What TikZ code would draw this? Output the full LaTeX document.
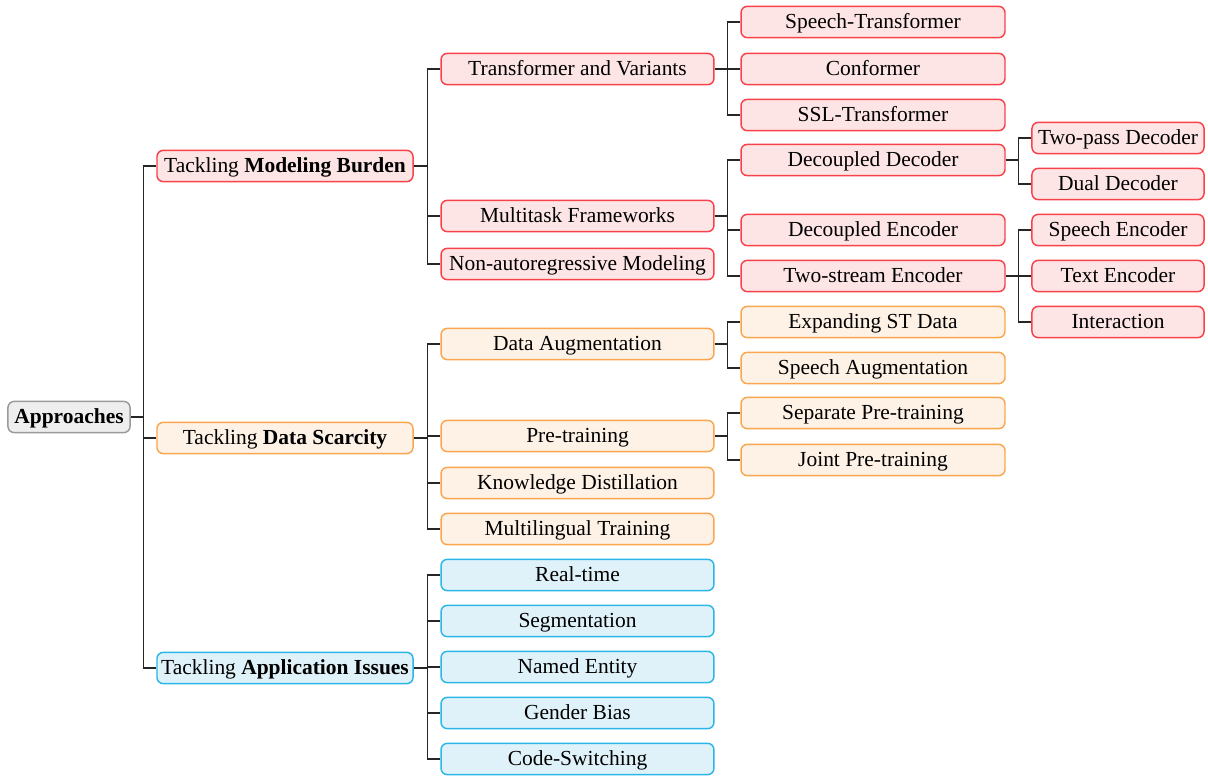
\documentclass[tikz,border=0pt]{standalone}
\usepackage{fontspec}
\setmainfont{Liberation Serif}
\usetikzlibrary{calc}
\definecolor{redline}{HTML}{F8424A}
\definecolor{redfill}{HTML}{FDE4E5}
\definecolor{orangeline}{HTML}{FAA64E}
\definecolor{orangefill}{HTML}{FEF1E5}
\definecolor{blueline}{HTML}{2AB6E6}
\definecolor{bluefill}{HTML}{DFF1F9}
\definecolor{grayline}{HTML}{9A9A9A}
\definecolor{grayfill}{HTML}{EEEEEE}

\begin{document}
\begin{tikzpicture}[x=0.48pt,y=-0.48pt,
  box/.style={draw, rounded corners=3pt, line width=0.7pt, inner sep=0pt,
    minimum height=15pt, text height=6.6pt, text depth=0pt,
    font=\fontsize{10.3}{12}\selectfont},
  redbox/.style={box, draw=redline, fill=redfill},
  orangebox/.style={box, draw=orangeline, fill=orangefill},
  bluebox/.style={box, draw=blueline, fill=bluefill},
  graybox/.style={box, draw=grayline, fill=grayfill},
  lvzero/.style={minimum width=58.6pt},
  lvone/.style={minimum width=122.9pt},
  lvtwo/.style={minimum width=131pt},
  lvthree/.style={minimum width=126.7pt},
  lvfour/.style={minimum width=82.6pt},
  link/.style={draw=black!85, line width=0.55pt}]
\useasboundingbox (0,0) rectangle (1208,777);
% root
\node [graybox, lvzero] (root) at (69,417) {\textbf{Approaches}};
% first level
\node [redbox, lvone] (mb) at (285,166) {Tackling \textbf{Modeling Burden}};
\node [orangebox, lvone] (ds) at (285,438) {Tackling \textbf{Data Scarcity}};
\node [bluebox, lvone] (ai) at (285,668) {Tackling \textbf{Application Issues}};
% second level
\node [redbox, lvtwo] (tv) at (577.5,69) {Transformer and Variants};
\node [redbox, lvtwo] (mf) at (577.5,216) {Multitask Frameworks};
\node [redbox, lvtwo] (nar) at (577.5,264) {Non-autoregressive Modeling};
\node [orangebox, lvtwo] (da) at (577.5,344) {Data Augmentation};
\node [orangebox, lvtwo] (pt) at (577.5,436) {Pre-training};
\node [orangebox, lvtwo] (kd) at (577.5,483) {Knowledge Distillation};
\node [orangebox, lvtwo] (mt) at (577.5,529) {Multilingual Training};
\node [bluebox, lvtwo] (rt) at (577.5,575) {Real-time};
\node [bluebox, lvtwo] (seg) at (577.5,621) {Segmentation};
\node [bluebox, lvtwo] (ne) at (577.5,667) {Named Entity};
\node [bluebox, lvtwo] (gb) at (577.5,713) {Gender Bias};
\node [bluebox, lvtwo] (cs) at (577.5,759) {Code-Switching};
% third level
\node [redbox, lvthree] (st) at (873,22) {Speech-Transformer};
\node [redbox, lvthree] (conf) at (873,69) {Conformer};
\node [redbox, lvthree] (sslt) at (873,115) {SSL-Transformer};
\node [redbox, lvthree] (ddec) at (873,160) {Decoupled Decoder};
\node [redbox, lvthree] (denc) at (873,230) {Decoupled Encoder};
\node [redbox, lvthree] (tse) at (873,276) {Two-stream Encoder};
\node [orangebox, lvthree] (esd) at (873,322) {Expanding ST Data};
\node [orangebox, lvthree] (sa) at (873,368) {Speech Augmentation};
\node [orangebox, lvthree] (spt) at (873,413) {Separate Pre-training};
\node [orangebox, lvthree] (jpt) at (873,460) {Joint Pre-training};
% fourth level
\node [redbox, lvfour] (tpd) at (1118,138) {Two-pass Decoder};
\node [redbox, lvfour] (dud) at (1118,184) {Dual Decoder};
\node [redbox, lvfour] (se) at (1118,230) {Speech Encoder};
\node [redbox, lvfour] (te) at (1118,276) {Text Encoder};
\node [redbox, lvfour] (inter) at (1118,322) {Interaction};
% links
\foreach \c in {mb,ds,ai}
  \draw [link] (root.east) -- ++(13,0) |- (\c.west);
\foreach \c in {tv,mf,nar}
  \draw [link] (mb.east) -- ++(14,0) |- (\c.west);
\foreach \c in {da,pt,kd,mt}
  \draw [link] (ds.east) -- ++(14,0) |- (\c.west);
\foreach \c in {rt,seg,ne,gb,cs}
  \draw [link] (ai.east) -- ++(14,0) |- (\c.west);
\foreach \c in {st,conf,sslt}
  \draw [link] (tv.east) -- ++(13,0) |- (\c.west);
\foreach \c in {ddec,denc,tse}
  \draw [link] (mf.east) -- ++(13,0) |- (\c.west);
\foreach \c in {esd,sa}
  \draw [link] (da.east) -- ++(13,0) |- (\c.west);
\foreach \c in {spt,jpt}
  \draw [link] (pt.east) -- ++(13,0) |- (\c.west);
\foreach \c in {tpd,dud}
  \draw [link] (ddec.east) -- ++(13,0) |- (\c.west);
\foreach \c in {se,te,inter}
  \draw [link] (tse.east) -- ++(13,0) |- (\c.west);
\end{tikzpicture}
\end{document}
